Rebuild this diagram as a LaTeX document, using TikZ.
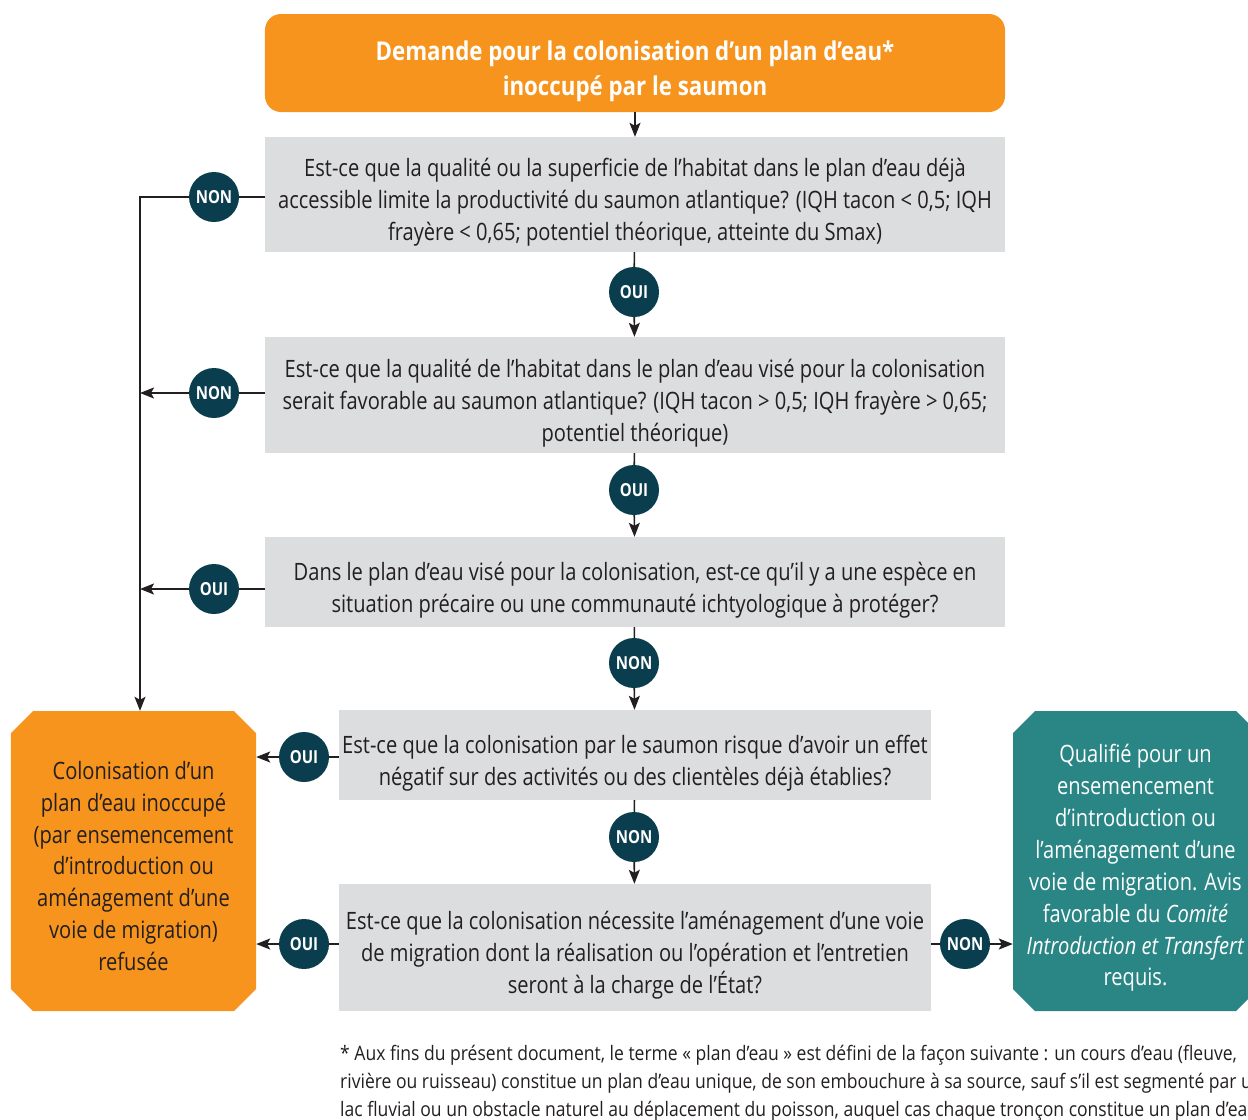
\documentclass[tikz,border=0pt]{standalone}
\usepackage{fontspec}
\setmainfont[FakeStretch=0.84]{Open Sans}
\newfontfamily\titlefont[FakeStretch=0.86]{Open Sans}
\newfontfamily\notefont[FakeStretch=0.88]{Open Sans}
\usetikzlibrary{arrows.meta}

\definecolor{orangebox}{HTML}{F7941D}
\definecolor{greybox}{HTML}{DCDDDF}
\definecolor{circfill}{HTML}{0A3E4E}
\definecolor{tealbox}{HTML}{2A8685}
\definecolor{inkdark}{HTML}{231F20}

\tikzset{
  question/.style={fill=greybox, minimum width=740bp, inner sep=0pt},
  narrowq/.style={question, minimum width=592bp},
  qtext/.style={align=center, inner sep=0pt, text=inkdark, font=\fontsize{24}{32}\selectfont},
  answer/.style={circle, fill=circfill, minimum size=50bp, inner sep=0pt, text=white,
    font=\bfseries\fontsize{18}{18}\selectfont},
  % octagonal outcome box: a rectangle node whose inside is filled with a chamfered outline
  endbox/.style={minimum width=245bp, minimum height=300bp, inner sep=0pt,
    path picture={\fill[#1]
      ([xshift=22bp]path picture bounding box.north west) --
      ([xshift=-22bp]path picture bounding box.north east) --
      ([yshift=-22bp]path picture bounding box.north east) --
      ([yshift=22bp]path picture bounding box.south east) --
      ([xshift=-22bp]path picture bounding box.south east) --
      ([xshift=22bp]path picture bounding box.south west) --
      ([yshift=22bp]path picture bounding box.south west) --
      ([yshift=-22bp]path picture bounding box.north west) -- cycle;}},
  conn/.style={draw=inkdark, line width=1.6bp},
  arr/.style={conn, -{Stealth[length=14bp,width=11bp,inset=3bp]}},
}

\begin{document}
\begin{tikzpicture}[x=1bp,y=-1bp]
\useasboundingbox (0,0) rectangle (1248,1120);

% start of the decision chain
\node[fill=orangebox, rounded corners=16bp, minimum width=740bp, minimum height=98bp]
  (start) at (635,63) {};
\node[align=center, inner sep=0pt, text=white, font=\titlefont\bfseries\fontsize{26}{35}\selectfont,
      yshift=-8bp] (starttext) at (start.center)
  {Demande pour la colonisation d’un plan d’eau*\\inoccupé par le saumon};

% questions
\node[question, minimum height=115bp] (q1) at (635,194.5) {};
\node[qtext, yshift=-8bp] (q1text) at (q1.center)
  {Est-ce que la qualité ou la superficie de l’habitat dans le plan d’eau déjà\\
   accessible limite la productivité du saumon atlantique? (IQH tacon < 0,5; IQH\\
   frayère < 0,65; potentiel théorique, atteinte du Smax)};
\node[question, minimum height=116bp] (q2) at (635,395) {};
\node[qtext, yshift=-8bp] (q2text) at (q2.center)
  {Est-ce que la qualité de l’habitat dans le plan d’eau visé pour la colonisation\\
   serait favorable au saumon atlantique? (IQH tacon > 0,5; IQH frayère > 0,65;\\
   potentiel théorique)};
\node[question, minimum height=90bp] (q3) at (635,582) {};
\node[qtext, yshift=-8bp] (q3text) at (q3.center)
  {Dans le plan d’eau visé pour la colonisation, est-ce qu’il y a une espèce en\\
   situation précaire ou une communauté ichtyologique à protéger?};
\node[narrowq, minimum height=90bp] (q4) at (635,755) {};
\node[qtext, yshift=-8bp] (q4text) at (q4.center)
  {Est-ce que la colonisation par le saumon risque d’avoir un effet\\
   négatif sur des activités ou des clientèles déjà établies?};
\node[narrowq, minimum height=127bp] (q5) at (635,947.5) {};
\node[qtext, yshift=-8bp] (q5text) at (q5.center)
  {Est-ce que la colonisation nécessite l’aménagement d’une voie\\
   de migration dont la réalisation ou l’opération et l’entretien\\
   seront à la charge de l’État?};

% outcomes
\node[endbox=orangebox] (refused) at (133.5,861) {};
\node[qtext, yshift=-5bp] (refusedtext) at (refused.center)
  {Colonisation d’un\\plan d’eau inoccupé\\(par ensemencement\\d’introduction ou\\
   aménagement d’une\\voie de migration)\\refusée};
\node[endbox=tealbox] (qualified) at (1135.5,861) {};
\node[qtext, text=white, yshift=-7bp] (qualifiedtext) at (qualified.center)
  {Qualifié pour un\\ensemencement\\d’introduction ou\\l’aménagement d’une\\
   voie de migration. Avis\\favorable du \textit{Comité}\\
   \textit{Introduction et Transfert}\\requis.};

% answers on the main chain
\node[answer] (a1) at (634,292) {OUI};
\node[answer] (a2) at (634,490) {OUI};
\node[answer] (a3) at (634,663) {NON};
\node[answer] (a4) at (634,837) {NON};

% answers on the side branches
\node[answer] (b1) at (214,197) {NON};
\node[answer] (b2) at (214,393) {NON};
\node[answer] (b3) at (214,589) {OUI};
\node[answer] (b4) at (304,757) {OUI};
\node[answer] (b5) at (304,944) {OUI};
\node[answer] (b6) at (965,944) {NON};

\coordinate (trunk) at (140,197);

% main chain
\draw[arr] (start) -- (q1);
\draw[conn] (q1) -- (a1);
\draw[arr] (a1) -- (q2);
\draw[conn] (q2) -- (a2);
\draw[arr] (a2) -- (q3);
\draw[conn] (q3) -- (a3);
\draw[arr] (a3) -- (q4);
\draw[conn] (q4) -- (a4);
\draw[arr] (a4) -- (q5);

% left collector towards the refusal
\draw[conn] (q1.west |- b1) -- (b1);
\draw[arr] (b1) -- (trunk) -- (trunk |- refused.north);
\draw[conn] (q2.west |- b2) -- (b2);
\draw[arr] (b2) -- (trunk |- b2);
\draw[conn] (q3.west |- b3) -- (b3);
\draw[arr] (b3) -- (trunk |- b3);
\draw[conn] (q4.west |- b4) -- (b4);
\draw[arr] (b4) -- (refused.east |- b4);
\draw[conn] (q5.west |- b5) -- (b5);
\draw[arr] (b5) -- (refused.east |- b5);

% right branch
\draw[conn] (q5.east |- b6) -- (b6);
\draw[arr] (b6) -- (qualified.west |- b6);

% footnote
\node[anchor=north west, align=left, inner sep=0pt, text=inkdark,
      font=\notefont\fontsize{20}{28}\selectfont] (note) at (340,1045)
  {* Aux fins du présent document, le terme « plan d’eau » est défini de la façon suivante : un cours d’eau (fleuve,\\
   rivière ou ruisseau) constitue un plan d’eau unique, de son embouchure à sa source, sauf s’il est segmenté par un\\
   lac fluvial ou un obstacle naturel au déplacement du poisson, auquel cas chaque tronçon constitue un plan d’eau.};
\end{tikzpicture}
\end{document}
